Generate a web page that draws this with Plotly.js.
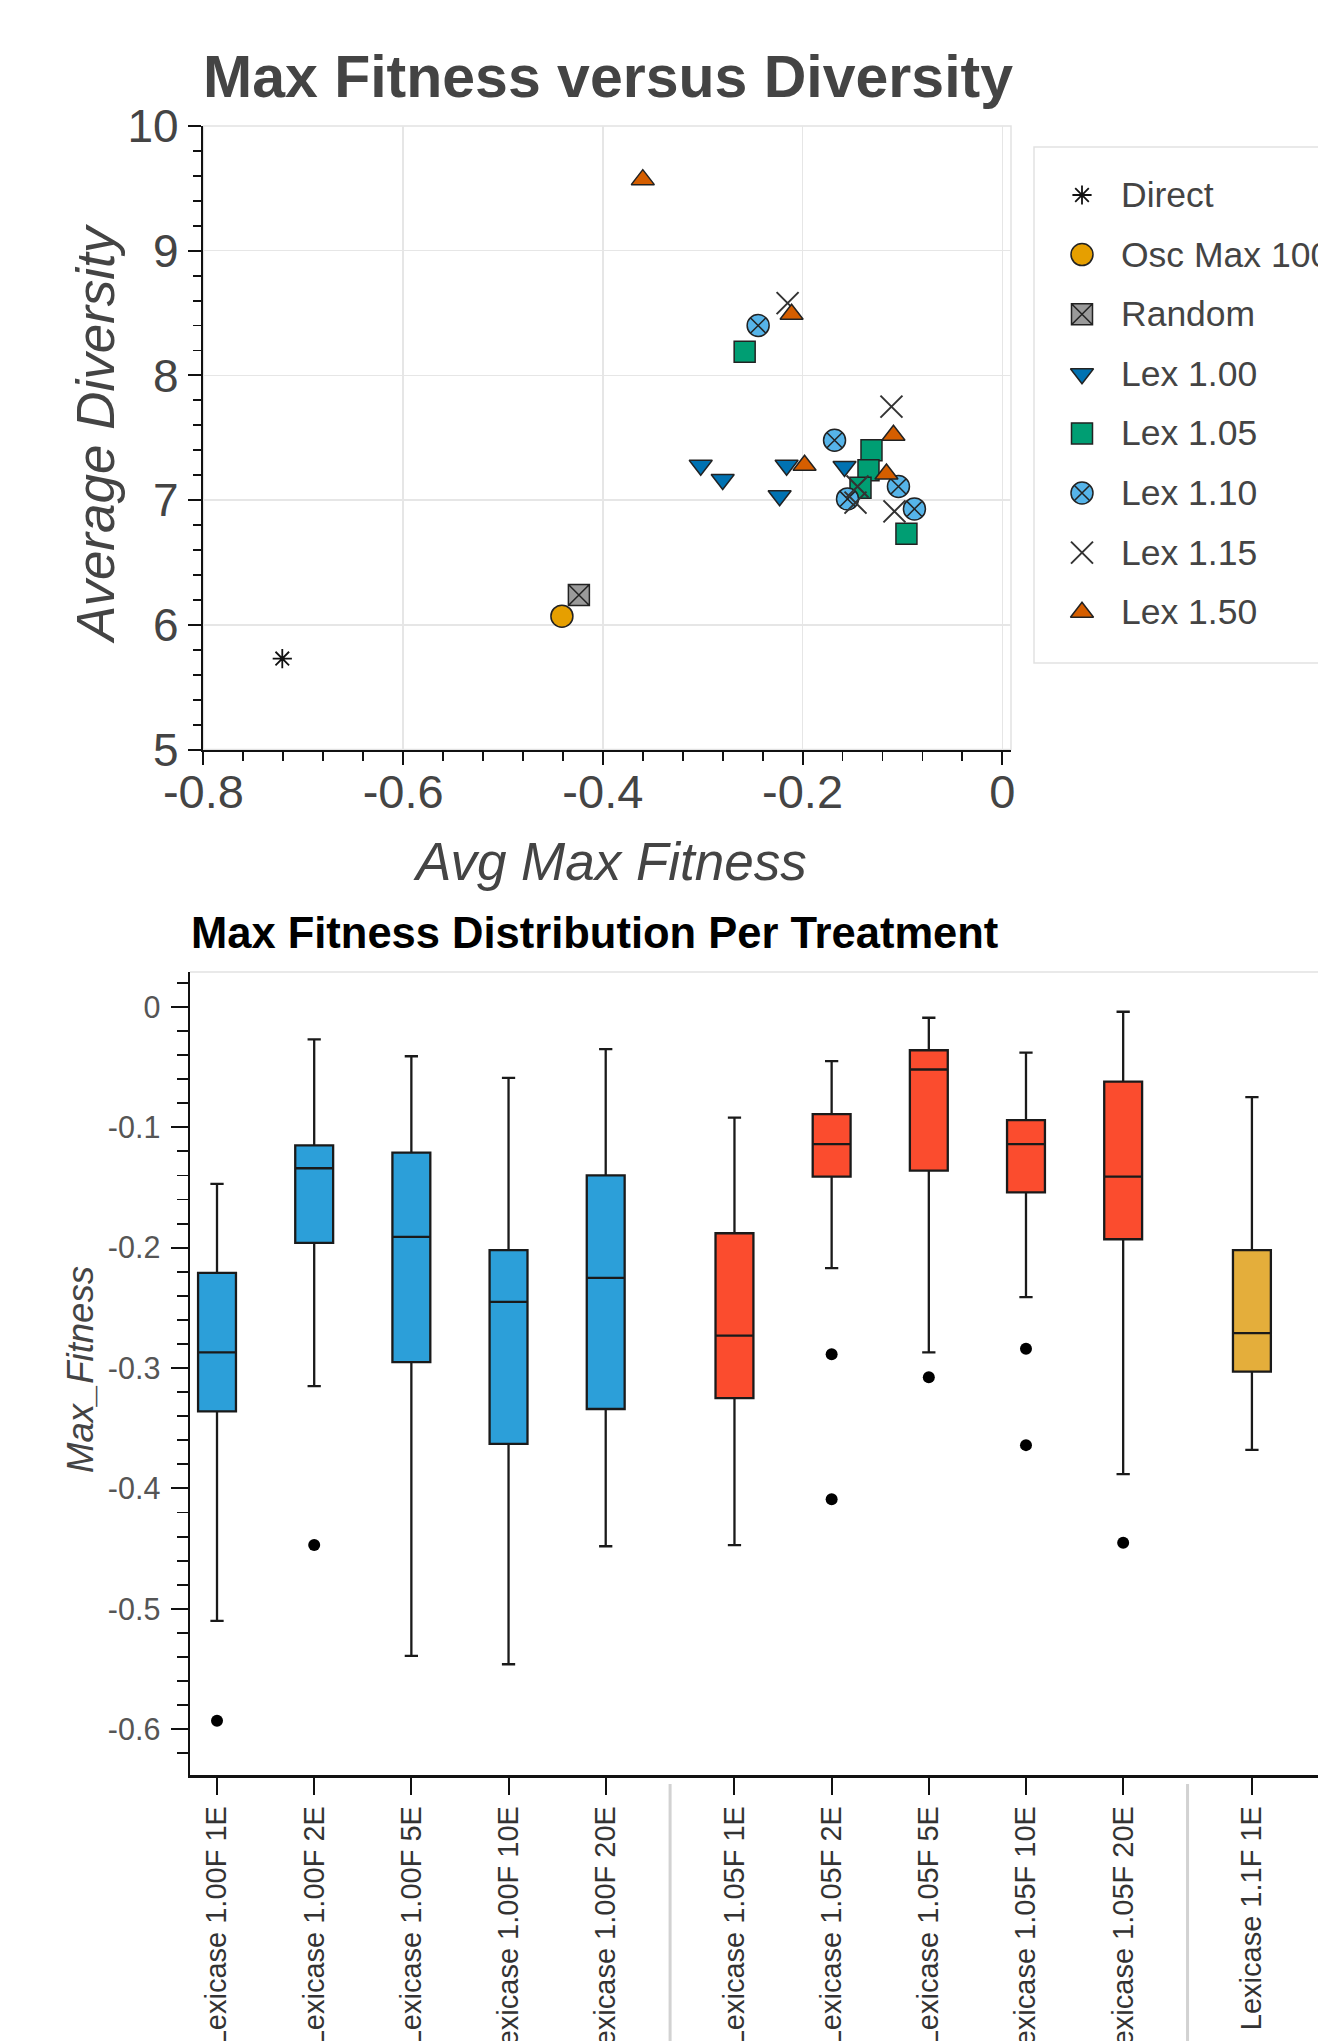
<!DOCTYPE html>
<html>
<head>
<meta charset="utf-8">
<script src="https://cdn.plot.ly/plotly-3.0.1.min.js"></script>
<style>
html,body{margin:0;padding:0;background:#fff;overflow:hidden}
#chart{width:1318px;height:2041px}
</style>
</head>
<body>
<div id="chart"></div>
<script>
// ---------- Scatter: Max Fitness versus Diversity ----------
const seriesNames = ['Direct', 'Osc Max 100', 'Random', 'Lex 1.00', 'Lex 1.05', 'Lex 1.10', 'Lex 1.15', 'Lex 1.50'];
const directX = [-0.721];
const directY = [5.73];
const oscX = [-0.441];
const oscY = [6.07];
const randomX = [-0.424];
const randomY = [6.24];
const lex100X = [-0.302, -0.280, -0.216, -0.223, -0.158];
const lex100Y = [7.28, 7.165, 7.28, 7.035, 7.27];
const lex105X = [-0.258, -0.131, -0.134, -0.142, -0.096];
const lex105Y = [8.19, 7.40, 7.24, 7.10, 6.73];
const lex110X = [-0.2445, -0.168, -0.104, -0.155, -0.088];
const lex110Y = [8.40, 7.48, 7.11, 7.01, 6.93];
const lex115X = [-0.215, -0.111, -0.145, -0.147, -0.108];
const lex115Y = [8.58, 7.75, 7.11, 6.98, 6.91];
const lex150X = [-0.360, -0.211, -0.198, -0.109, -0.116];
const lex150Y = [9.57, 8.49, 7.28, 7.52, 7.21];

const scatterXTickVals = [-0.8, -0.6, -0.4, -0.2, 0];
const scatterXTickText = ['-0.8', '-0.6', '-0.4', '-0.2', '0'];

// ---------- Box plot: Max Fitness Distribution Per Treatment ----------
const boxGroups = [
  ['Lexicase 1.00F 1E', 'Lexicase 1.00F 2E', 'Lexicase 1.00F 5E', 'Lexicase 1.00F 10E', 'Lexicase 1.00F 20E'],
  ['Lexicase 1.05F 1E', 'Lexicase 1.05F 2E', 'Lexicase 1.05F 5E', 'Lexicase 1.05F 10E', 'Lexicase 1.05F 20E'],
  ['Lexicase 1.1F 1E']
];
const boxUpper  = [-0.147, -0.027, -0.041, -0.059, -0.035, -0.092, -0.045, -0.009, -0.038, -0.004, -0.075];
const boxQ3     = [-0.221, -0.115, -0.121, -0.202, -0.140, -0.188, -0.089, -0.036, -0.094, -0.062, -0.202];
const boxMedian = [-0.287, -0.134, -0.191, -0.245, -0.225, -0.273, -0.114, -0.052, -0.114, -0.141, -0.271];
const boxQ1     = [-0.336, -0.196, -0.295, -0.363, -0.334, -0.325, -0.141, -0.136, -0.154, -0.193, -0.303];
const boxLower  = [-0.510, -0.315, -0.539, -0.546, -0.448, -0.447, -0.217, -0.287, -0.241, -0.388, -0.368];
const boxOutliers = [[-0.593], [-0.447], [], [], [], [], [-0.2885, -0.409], [-0.3076], [-0.284, -0.364], [-0.445], []];
const boxYTickVals = [0, -0.1, -0.2, -0.3, -0.4, -0.5, -0.6];
const boxYTickText = ['0', '-0.1', '-0.2', '-0.3', '-0.4', '-0.5', '-0.6'];

// ---------- layout helpers ----------
const W = 1318, H = 2041;
const px = v => v / W;
const py = v => 1 - v / H;
const FONT = 'Liberation Sans, Arial, Helvetica, sans-serif';
const groupColors = ['#2c9fd9', '#fb4c2e', '#e4ae3b'];
const GROUP_GAP = 0.325;

// category positions on the box x axis (index within list + group padding)
const boxPos = [], boxLabels = [], groupOf = [];
let k = 0;
boxGroups.forEach((g, gi) => {
  g.forEach(lbl => {
    boxPos.push(k + gi * GROUP_GAP);
    boxLabels.push(lbl);
    groupOf.push(gi);
    k++;
  });
});

const traces = [];
const markerLine = {color: '#222', width: 1.5};
const scatterSpecs = [
  [directX, directY, {symbol: 'asterisk-open', size: 16, color: '#111', line: {color: '#111', width: 1.8}}],
  [oscX, oscY, {symbol: 'circle', size: 22, color: '#E69F00', line: markerLine}],
  [randomX, randomY, {symbol: 'square-x', size: 21, color: '#9a9a9a', line: markerLine}],
  [lex100X, lex100Y, {symbol: 'triangle-down', size: 20, color: '#0072B2', line: markerLine}],
  [lex105X, lex105Y, {symbol: 'square', size: 21, color: '#009E73', line: markerLine}],
  [lex110X, lex110Y, {symbol: 'circle-x', size: 22, color: '#56B4E9', line: markerLine}],
  [lex115X, lex115Y, {symbol: 'x-thin-open', size: 22, color: '#333', line: {color: '#333', width: 2}}],
  [lex150X, lex150Y, {symbol: 'triangle-up', size: 20, color: '#D55E00', line: markerLine}]
];
scatterSpecs.forEach((s, i) => {
  traces.push({
    type: 'scatter', mode: 'markers', name: seriesNames[i],
    x: s[0], y: s[1], marker: s[2],
    xaxis: 'x', yaxis: 'y', showlegend: false
  });
});

// legend: one sample marker per series, stacked by series index (axis x3/y3)
scatterSpecs.forEach((s, i) => {
  traces.push({
    type: 'scatter', mode: 'markers', name: seriesNames[i] + ' (legend)',
    x: [0], y: [i], marker: s[2], cliponaxis: false,
    xaxis: 'x3', yaxis: 'y3', showlegend: false
  });
});

// box traces, one per group colour
boxGroups.forEach((g, gi) => {
  const idx = groupOf.map((v, i) => v === gi ? i : -1).filter(i => i >= 0);
  traces.push({
    type: 'box', xaxis: 'x2', yaxis: 'y2', showlegend: false,
    x: idx.map(i => boxPos[i]),
    q1: idx.map(i => boxQ1[i]),
    median: idx.map(i => boxMedian[i]),
    q3: idx.map(i => boxQ3[i]),
    lowerfence: idx.map(i => boxLower[i]),
    upperfence: idx.map(i => boxUpper[i]),
    boxpoints: false,
    width: 0.39,
    whiskerwidth: 0.35,
    fillcolor: groupColors[gi],
    line: {color: '#1a1a1a', width: 2.3}
  });
});

// outliers
const outX = [], outY = [];
boxOutliers.forEach((arr, i) => arr.forEach(v => { outX.push(boxPos[i]); outY.push(v); }));
traces.push({
  type: 'scatter', mode: 'markers', xaxis: 'x2', yaxis: 'y2', showlegend: false,
  x: outX, y: outY, marker: {color: '#000', size: 12}
});

const xr2 = [-0.278, 11.33];
const frac = v => (v - xr2[0]) / (xr2[1] - xr2[0]);
const shapes = [
  {type: 'rect', xref: 'x domain', yref: 'y domain', x0: 0, x1: 1, y0: 0, y1: 1,
   line: {color: '#e2e2e2', width: 1.5}, layer: 'below'},
  {type: 'line', xref: 'x2 domain', yref: 'y2 domain', x0: 0, x1: 1, y0: 1, y1: 1,
   line: {color: '#e2e2e2', width: 1.5}, layer: 'below'},
  // legend frame
  {type: 'rect', xref: 'paper', yref: 'paper', x0: px(1034), x1: px(1340), y0: py(663), y1: py(147),
   line: {color: '#e2e2e2', width: 1.5}, fillcolor: '#fff', layer: 'below'}
];
for (let i = 1; i < boxPos.length; i++) {
  if (groupOf[i] !== groupOf[i - 1]) {
    const sx = frac((boxPos[i] + boxPos[i - 1]) / 2);
    shapes.push({type: 'line', xref: 'x2 domain', yref: 'paper', x0: sx, x1: sx,
      y0: py(1784), y1: py(2080), line: {color: '#d2d2d2', width: 3}});
  }
}

const axisBase = {
  showline: true, linecolor: '#111', linewidth: 2.5, zeroline: false,
  ticks: 'outside', tickcolor: '#111', tickwidth: 2
};

const annotations = [
  {text: 'Avg Max Fitness', xref: 'paper', yref: 'paper', x: px(610), y: py(861),
   xanchor: 'center', yanchor: 'middle', showarrow: false,
   font: {family: FONT, size: 53, color: '#444', style: 'italic'}},
  {text: 'Average Diversity', xref: 'paper', yref: 'paper', x: px(95), y: py(434),
   xanchor: 'center', yanchor: 'middle', showarrow: false, textangle: -90,
   font: {family: FONT, size: 53, color: '#444', style: 'italic'}},
  {text: 'Max Fitness Distribution Per Treatment', xref: 'paper', yref: 'paper', x: px(189), y: py(933),
   xanchor: 'left', yanchor: 'middle', showarrow: false,
   font: {family: FONT, size: 43.5, color: '#000', weight: 'bold'}},
  {text: 'Max_Fitness', xref: 'paper', yref: 'paper', x: px(80), y: py(1370),
   xanchor: 'center', yanchor: 'middle', showarrow: false, textangle: -90,
   font: {family: FONT, size: 36.5, color: '#444', style: 'italic'}}
];
seriesNames.forEach((name, i) => {
  annotations.push({text: name, xref: 'paper', yref: 'y3', x: px(1119), y: i,
    xanchor: 'left', yanchor: 'middle', showarrow: false,
    font: {family: FONT, size: 35.5, color: '#444'}});
});

const layout = {
  width: W, height: H,
  margin: {l: 0, r: 0, t: 0, b: 0, autoexpand: false},
  paper_bgcolor: '#fff', plot_bgcolor: '#fff',
  hovermode: false,
  showlegend: false,
  font: {family: FONT, color: '#444'},
  title: {
    text: 'Max Fitness versus Diversity',
    font: {family: FONT, size: 59, color: '#444', weight: 'bold'},
    xref: 'paper', yref: 'paper', x: px(608), xanchor: 'center', y: py(56), yanchor: 'top'
  },
  xaxis: Object.assign({}, axisBase, {
    domain: [px(203.4), px(1011)], range: [-0.8, 0.0087], anchor: 'y',
    tickmode: 'array', tickvals: scatterXTickVals, ticktext: scatterXTickText,
    ticklen: 13, ticklabelstandoff: -14, tickfont: {family: FONT, size: 47, color: '#444'},
    showgrid: true, gridcolor: '#e6e6e6', gridwidth: 1.5,
    minor: {tickmode: 'linear', tick0: 0, dtick: 0.04, ticks: 'outside', ticklen: 9, tickwidth: 1.8, tickcolor: '#111', showgrid: false}
  }),
  yaxis: Object.assign({}, axisBase, {
    domain: [py(749.6), py(126)], range: [5, 10], anchor: 'x',
    tickmode: 'linear', tick0: 5, dtick: 1,
    ticklen: 13, tickfont: {family: FONT, size: 46, color: '#444'},
    showgrid: true, gridcolor: '#e6e6e6', gridwidth: 1.5,
    minor: {tickmode: 'linear', tick0: 5, dtick: 0.2, ticks: 'outside', ticklen: 8, tickwidth: 1.8, tickcolor: '#111', showgrid: false}
  }),
  xaxis2: Object.assign({}, axisBase, {
    domain: [px(190), 1], range: xr2, anchor: 'y2',
    tickmode: 'array', tickvals: boxPos, ticktext: boxLabels, tickangle: -90,
    ticklen: 17, tickfont: {family: FONT, size: 29, color: '#333'},
    showgrid: false
  }),
  yaxis2: Object.assign({}, axisBase, {
    domain: [py(1775), py(972)], range: [-0.638, 0.029], anchor: 'x2',
    tickmode: 'array', tickvals: boxYTickVals, ticktext: boxYTickText,
    ticklen: 17, ticklabelstandoff: 4, tickfont: {family: FONT, size: 30.5, color: '#555'},
    showgrid: false,
    minor: {tickmode: 'linear', tick0: 0, dtick: 0.02, ticks: 'outside', ticklen: 11, tickwidth: 1.8, tickcolor: '#111', showgrid: false}
  }),
  // invisible axes that place the legend samples: one row per series
  xaxis3: {domain: [px(1072), px(1092)], range: [-1, 1], anchor: 'y3', visible: false, fixedrange: true},
  yaxis3: {domain: [py(663), py(147)], range: [7.852, -0.805], anchor: 'x3', visible: false, fixedrange: true},
  shapes: shapes,
  annotations: annotations
};

Plotly.newPlot('chart', traces, layout, {staticPlot: true, displayModeBar: false});
</script>
</body>
</html>
